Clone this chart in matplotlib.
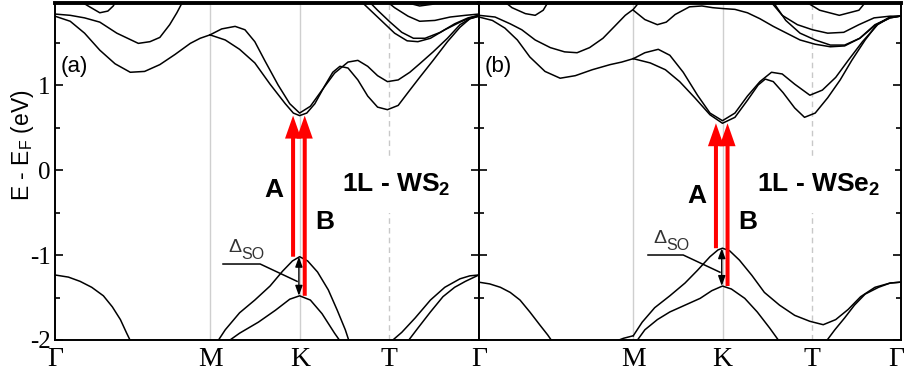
import matplotlib
matplotlib.use("Agg")
import matplotlib.pyplot as plt
from matplotlib.ticker import FixedLocator
from matplotlib.transforms import ScaledTranslation

plt.rcParams["font.family"] = ["Liberation Sans", "DejaVu Sans"]
plt.rcParams["mathtext.fontset"] = "custom"
plt.rcParams["mathtext.rm"] = "Liberation Sans"
plt.rcParams["mathtext.bf"] = "Liberation Sans:bold"
plt.rcParams["mathtext.default"] = "regular"

# High-symmetry path (|MK| = 1)
kpath_pos = [0.0, 1.732, 2.732, 3.732, 4.732]
kpath_labels = ["\u0393", "M", "K", "T", "\u0393"]
y_ticks = [-2, -1, 0, 1]
y_ticklabels = ["-2", "-1", "0", "1"]

# ---------------- 1L-WS2 bands (k, E in eV) ----------------
ws2_k_c1 = [0, 0.17, 0.33, 0.50, 0.67, 0.84, 1.00, 1.17, 1.34, 1.51, 1.62, 1.73]
ws2_e_c1 = [1.81, 1.75, 1.61, 1.41, 1.25, 1.15, 1.16, 1.24, 1.36, 1.49, 1.55, 1.59]
ws2_k_c2 = [0, 0.17, 0.33, 0.50, 0.69, 0.93, 1.06, 1.17, 1.28, 1.36, 1.43, 1.46]
ws2_e_c2 = [1.835, 1.82, 1.79, 1.74, 1.61, 1.49, 1.51, 1.56, 1.71, 1.85, 1.99, 2.05]
ws2_k_c3 = [0.23, 0.37, 0.50, 0.59, 0.65, 0.70]
ws2_e_c3 = [2.02, 1.93, 1.85, 1.87, 1.93, 2.02]
ws2_k_cbA = [1.73, 1.90, 2.06, 2.23, 2.40, 2.57, 2.66, 2.73, 2.81, 2.90, 3.01, 3.10, 3.18,
             3.27, 3.38, 3.49, 3.60, 3.71, 3.83, 3.96, 4.07, 4.22, 4.38, 4.52, 4.63, 4.73]
ws2_e_cbA = [1.59, 1.53, 1.42, 1.26, 1.01, 0.78, 0.67, 0.64, 0.67, 0.78, 0.99, 1.15, 1.22,
             1.20, 1.06, 0.87, 0.74, 0.71, 0.76, 0.94, 1.09, 1.29, 1.51, 1.68, 1.78, 1.81]
ws2_k_cbB = [1.73, 1.86, 2.01, 2.12, 2.23, 2.34, 2.49, 2.62, 2.73, 2.85, 2.98, 3.12, 3.27,
             3.38, 3.49, 3.60, 3.71, 3.83, 3.96, 4.07, 4.22, 4.38, 4.52, 4.63, 4.73]
ws2_e_cbB = [1.59, 1.66, 1.69, 1.65, 1.51, 1.29, 1.00, 0.78, 0.67, 0.75, 0.94, 1.14, 1.27,
             1.29, 1.22, 1.11, 1.04, 1.06, 1.15, 1.25, 1.39, 1.55, 1.71, 1.78, 1.81]
ws2_k_u1 = [3.38, 3.52, 3.66, 3.79, 3.93, 4.05, 4.19, 4.35, 4.52, 4.63, 4.73]
ws2_e_u1 = [2.02, 1.88, 1.74, 1.61, 1.52, 1.51, 1.55, 1.65, 1.74, 1.79, 1.82]
ws2_k_u2 = [3.47, 3.60, 3.74, 3.87, 4.00, 4.13, 4.30, 4.46, 4.61, 4.73]
ws2_e_u2 = [2.02, 1.88, 1.74, 1.62, 1.55, 1.55, 1.62, 1.72, 1.79, 1.82]
ws2_k_u3 = [3.66, 3.79, 3.94, 4.07, 4.24, 4.41, 4.58, 4.73]
ws2_e_u3 = [2.02, 1.91, 1.81, 1.75, 1.76, 1.80, 1.82, 1.835]
ws2_k_u4 = [3.83, 3.96, 4.07, 4.21, 4.35]
ws2_e_u4 = [2.02, 1.96, 1.93, 1.95, 2.01]
ws2_k_vG = [0, 0.15, 0.28, 0.41, 0.54, 0.64, 0.73, 0.80, 0.86]
ws2_e_vG = [-1.235, -1.26, -1.31, -1.38, -1.48, -1.61, -1.76, -1.92, -2.05]
ws2_k_v1 = [1.80, 1.90, 2.06, 2.23, 2.40, 2.54, 2.65, 2.73, 2.82, 2.93, 3.05, 3.15, 3.24, 3.29]
ws2_e_v1 = [-2.04, -1.88, -1.68, -1.53, -1.365, -1.19, -1.07, -1.02, -1.07, -1.20, -1.41,
            -1.65, -1.88, -2.04]
ws2_k_v2 = [1.90, 2.06, 2.27, 2.46, 2.62, 2.73, 2.85, 2.98, 3.12, 3.20]
ws2_e_v2 = [-2.04, -1.92, -1.79, -1.65, -1.52, -1.48, -1.53, -1.69, -1.92, -2.04]
ws2_k_v3 = [3.54, 3.65, 3.76, 3.87, 4.02, 4.19, 4.35, 4.52, 4.63, 4.73]
ws2_e_v3 = [-2.04, -2.01, -2.01, -1.91, -1.74, -1.53, -1.38, -1.28, -1.245, -1.235]
ws2_k_v4 = [3.92, 4.05, 4.19, 4.33, 4.46, 4.58, 4.73]
ws2_e_v4 = [-2.04, -1.86, -1.67, -1.49, -1.38, -1.31, -1.235]

# ---------------- 1L-WSe2 bands (k, E in eV) ----------------
wse2_k_c1 = [0, 0.15, 0.29, 0.43, 0.57, 0.74, 0.91, 1.08, 1.27, 1.47, 1.60, 1.73]
wse2_e_c1 = [1.80, 1.76, 1.67, 1.53, 1.33, 1.16, 1.08, 1.11, 1.18, 1.24, 1.27, 1.31]
wse2_k_c2 = [0, 0.18, 0.35, 0.48, 0.63, 0.80, 0.96, 1.10, 1.24, 1.39, 1.52, 1.64, 1.73, 1.80]
wse2_e_c2 = [1.82, 1.80, 1.72, 1.65, 1.53, 1.44, 1.39, 1.38, 1.44, 1.55, 1.69, 1.82, 1.89, 1.98]
wse2_k_c3 = [0.24, 0.37, 0.52, 0.63, 0.72, 0.80]
wse2_e_c3 = [2.02, 1.91, 1.84, 1.82, 1.88, 2.02]
wse2_k_cbA = [1.73, 1.92, 2.09, 2.25, 2.42, 2.59, 2.73, 2.87, 3.01, 3.13, 3.21, 3.30, 3.41,
              3.54, 3.65, 3.77, 3.91, 4.05, 4.18, 4.33, 4.47, 4.61, 4.72]
wse2_e_cbA = [1.31, 1.26, 1.18, 1.04, 0.85, 0.65, 0.55, 0.62, 0.82, 1.00, 1.07, 1.04, 0.91,
              0.73, 0.62, 0.67, 0.85, 1.06, 1.29, 1.53, 1.72, 1.80, 1.81]
wse2_k_cbB = [1.73, 1.86, 2.01, 2.14, 2.29, 2.45, 2.59, 2.73, 2.87, 3.01, 3.15, 3.28, 3.40,
              3.54, 3.71, 3.85, 4.00, 4.14, 4.30, 4.47, 4.61, 4.72]
wse2_e_cbB = [1.31, 1.38, 1.42, 1.35, 1.15, 0.88, 0.67, 0.58, 0.67, 0.87, 1.04, 1.15, 1.13,
              1.01, 0.88, 0.94, 1.09, 1.29, 1.51, 1.71, 1.80, 1.81]
wse2_k_u1 = [1.73, 1.86, 2.00, 2.10, 2.20, 2.36, 2.50, 2.62, 2.73, 2.87, 3.01, 3.15, 3.30,
             3.45, 3.60, 3.77, 3.94, 4.10, 4.27, 4.44, 4.61, 4.72]
wse2_e_u1 = [1.88, 1.77, 1.71, 1.74, 1.83, 1.92, 1.93, 1.91, 1.90, 1.89, 1.85, 1.78, 1.69,
             1.61, 1.53, 1.48, 1.45, 1.46, 1.55, 1.70, 1.79, 1.81]
wse2_k_u2 = [3.24, 3.40, 3.57, 3.74, 3.91, 4.09, 4.26, 4.43, 4.61, 4.72]
wse2_e_u2 = [2.02, 1.82, 1.71, 1.65, 1.61, 1.62, 1.71, 1.79, 1.81, 1.81]
wse2_k_u3 = [3.27, 3.44, 3.60, 3.77, 3.94, 4.10, 4.27, 4.44, 4.61, 4.72]
wse2_e_u3 = [2.02, 1.76, 1.61, 1.53, 1.47, 1.47, 1.55, 1.71, 1.79, 1.81]
wse2_k_u5 = [3.60, 3.82, 4.04, 4.26, 4.37]
wse2_e_u5 = [2.02, 1.88, 1.82, 1.88, 2.02]
wse2_k_vG = [0, 0.12, 0.24, 0.35, 0.46, 0.57, 0.68, 0.77, 0.85]
wse2_e_vG = [-1.32, -1.34, -1.38, -1.44, -1.53, -1.67, -1.82, -1.94, -2.06]
wse2_k_vM = [1.52, 1.62, 1.73]
wse2_e_vM = [-2.02, -1.98, -1.95]
wse2_k_v1 = [1.73, 1.83, 1.97, 2.14, 2.31, 2.45, 2.59, 2.68, 2.73, 2.81, 2.92, 3.06, 3.20,
             3.37, 3.54, 3.71, 3.86, 4.00, 4.14, 4.28, 4.44, 4.61, 4.72]
wse2_e_v1 = [-1.95, -1.79, -1.62, -1.48, -1.33, -1.18, -1.02, -0.94, -0.92, -0.95, -1.06,
             -1.24, -1.44, -1.59, -1.71, -1.78, -1.82, -1.76, -1.64, -1.49, -1.38, -1.33, -1.32]
wse2_k_v2 = [1.77, 1.86, 2.00, 2.14, 2.31, 2.48, 2.61, 2.73, 2.83, 2.98, 3.12, 3.26, 3.37]
wse2_e_v2 = [-2.01, -1.88, -1.76, -1.67, -1.59, -1.51, -1.42, -1.365, -1.40, -1.51, -1.67,
             -1.86, -2.02]
wse2_k_v3 = [3.89, 3.99, 4.10, 4.21, 4.33, 4.48, 4.61, 4.72]
wse2_e_v3 = [-2.02, -1.88, -1.74, -1.59, -1.46, -1.38, -1.33, -1.32]

ws2_bands = [(ws2_k_c1, ws2_e_c1), (ws2_k_c2, ws2_e_c2), (ws2_k_c3, ws2_e_c3),
             (ws2_k_cbA, ws2_e_cbA), (ws2_k_cbB, ws2_e_cbB),
             (ws2_k_u1, ws2_e_u1), (ws2_k_u2, ws2_e_u2), (ws2_k_u3, ws2_e_u3),
             (ws2_k_u4, ws2_e_u4), (ws2_k_vG, ws2_e_vG), (ws2_k_v1, ws2_e_v1),
             (ws2_k_v2, ws2_e_v2), (ws2_k_v3, ws2_e_v3), (ws2_k_v4, ws2_e_v4)]
wse2_bands = [(wse2_k_c1, wse2_e_c1), (wse2_k_c2, wse2_e_c2), (wse2_k_c3, wse2_e_c3),
              (wse2_k_cbA, wse2_e_cbA), (wse2_k_cbB, wse2_e_cbB),
              (wse2_k_u1, wse2_e_u1), (wse2_k_u2, wse2_e_u2), (wse2_k_u3, wse2_e_u3),
              (wse2_k_u5, wse2_e_u5),
              (wse2_k_vG, wse2_e_vG), (wse2_k_vM, wse2_e_vM), (wse2_k_v1, wse2_e_v1),
              (wse2_k_v2, wse2_e_v2), (wse2_k_v3, wse2_e_v3)]

# Band edges at K used for the optical transitions
ws2_cbm, ws2_vbm_A, ws2_vbm_B = 0.64, -1.02, -1.48
wse2_cbm, wse2_vbm_A, wse2_vbm_B = 0.55, -0.92, -1.365

W, H, DPI = 906, 378, 100
fig = plt.figure(figsize=(W / DPI, H / DPI), dpi=DPI)
y0, y1 = 1 - 340 / H, 1 - 3 / H
ax_a = fig.add_axes([55 / W, y0, (479 - 55) / W, y1 - y0])
ax_b = fig.add_axes([479 / W, y0, (901 - 479) / W, y1 - y0])

K = kpath_pos[2]


def setup(ax, show_labels, xlabels):
    ax.set_xlim(kpath_pos[0], kpath_pos[-1])
    ax.set_ylim(-2, 1.965)
    for k in kpath_pos[1:3]:
        ax.axvline(k, color="#cfcfcf", lw=1.0, zorder=1)
    ax.axvline(kpath_pos[3], color="#c8c8c8", lw=1.0, ls=(0, (4, 3)), zorder=1)
    ax.set_xticks(kpath_pos)
    ax.set_xticklabels(xlabels, fontfamily="Liberation Serif", fontsize=20)
    ax.tick_params(axis="x", length=0, pad=5)
    ax.yaxis.set_major_locator(FixedLocator(y_ticks))
    ax.yaxis.set_minor_locator(FixedLocator([-1.5, -0.5, 0.5, 1.5]))
    ax.tick_params(axis="y", which="both", direction="in", left=True, right=True,
                   width=1.2)
    ax.tick_params(axis="y", which="major", length=6)
    ax.tick_params(axis="y", which="minor", length=3.6)
    if show_labels:
        ax.set_yticklabels(y_ticklabels, fontfamily="Liberation Serif", fontsize=18)
        ax.tick_params(axis="y", pad=3)
    else:
        ax.set_yticklabels([])
    for s in ("left", "right", "bottom"):
        ax.spines[s].set_linewidth(1.4)
    ax.spines["top"].set_linewidth(2.8)


def draw_panel(ax, bands, cbm, vbA, vbB, name, tag, dso_x, dso_y, a_y):
    for kk, ee in bands:
        ax.plot(kk, ee, color="black", lw=1.1, zorder=3)
    # optical transitions A and B
    for dk, vb in ((-0.075, vbA), (0.055, vbB)):
        ax.arrow(K + dk, vb, 0, cbm - vb, width=0.045, head_width=0.18,
                 head_length=0.27, length_includes_head=True, color="red",
                 lw=0, zorder=5)
    # spin-orbit splitting of the valence band
    ax.annotate("", xy=(K - 0.01, vbB), xytext=(K - 0.01, vbA),
                arrowprops=dict(arrowstyle="<|-|>,head_length=0.5,head_width=0.18",
                                color="black", lw=1.0, shrinkA=0, shrinkB=0,
                                mutation_scale=12), zorder=6)
    ax.plot([dso_x[0], dso_x[1], K - 0.03], [dso_y, dso_y, (vbA + vbB) / 2 - 0.06],
            color="black", lw=1.1, zorder=6)
    ax.text(dso_x[0] + 0.13, dso_y + 0.20, "\u0394", fontsize=14, color="#333333",
            ha="center", va="center")
    ax.text(dso_x[0] + 0.33, dso_y + 0.11, "SO", fontsize=11.5, color="#333333",
            ha="center", va="center")
    ax.text(2.44, a_y, "A", fontsize=19, fontweight="bold", ha="center",
            va="center", zorder=6)
    ax.text(3.01, -0.615, "B", fontsize=19, fontweight="bold", ha="center",
            va="center", zorder=6)
    ax.text(3.81, -0.18, name, fontsize=19, fontweight="bold", ha="center",
            va="center", zorder=4,
            bbox=dict(boxstyle="square,pad=0.55", fc="white", ec="none"))
    ax.text(0.22, 1.215, tag, fontsize=16, ha="center", va="center")


setup(ax_a, True, kpath_labels[:-1] + [""])
setup(ax_b, False, kpath_labels)
# keep the closing Gamma label inside the canvas
last = ax_b.get_xticklabels()[-1]
last.set_transform(last.get_transform() + ScaledTranslation(-5 / DPI, 0, fig.dpi_scale_trans))

draw_panel(ax_a, ws2_bands, ws2_cbm, ws2_vbm_A, ws2_vbm_B,
           r"1L - WS$_\mathbf{2}$", "(a)", (1.875, 2.29), -1.106, -0.235)
draw_panel(ax_b, wse2_bands, wse2_cbm, wse2_vbm_A, wse2_vbm_B,
           r"1L - WSe$_\mathbf{2}$", "(b)", (1.895, 2.29), -1.0, -0.31)

fig.text(22 / W, 1 - 145 / H, r"E - E$_\mathregular{F}$ (eV)", rotation=90,
         fontsize=16.5, ha="center", va="center")

fig.savefig("out.png", dpi=DPI)
